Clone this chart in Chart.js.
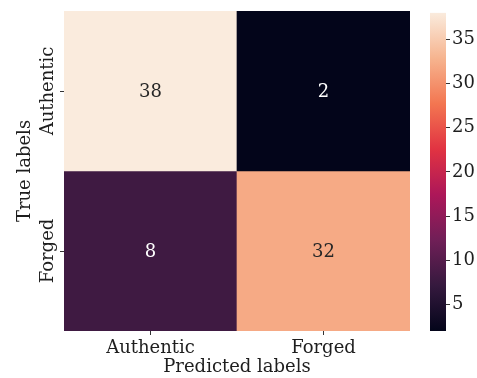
<!DOCTYPE html>
<html>
<head>
<meta charset="utf-8">
<script src="https://cdn.jsdelivr.net/npm/chart.js@4/dist/chart.umd.min.js"></script>
<style>
  html, body { margin: 0; padding: 0; background: #ffffff; }
  #wrap { position: relative; width: 477px; height: 378px; overflow: hidden; }
  #heat { position: absolute; left: 0; top: 0; }
  #scale { position: absolute; left: 420px; top: 0; }
</style>
</head>
<body>
<div id="wrap">
  <canvas id="heat" width="477" height="378"></canvas>
  <canvas id="scale" width="57" height="378"></canvas>
</div>
<script>
// Confusion matrix: rows = true class, columns = predicted class
const predictedLabels = ['Authentic', 'Forged'];
const trueLabels = ['Authentic', 'Forged'];
const authenticRow = [38, 2];
const forgedRow = [8, 32];
const counts = [authenticRow, forgedRow];
const colorbarTicks = [5, 10, 15, 20, 25, 30, 35];
const colorMin = 2;
const colorMax = 38;

const FONT_FAMILY = '"DejaVu Serif", "Liberation Serif", serif';
const FONT_SIZE = 18;
const font = { family: FONT_FAMILY, size: FONT_SIZE };
const inkColor = '#1e1e1e';
const tickMarkColor = '#333333';

// "rocket" colour ramp
const rocketStops = [
  [0, [3, 5, 26]],
  [1 / 7, [53, 25, 62]],
  [2 / 7, [112, 31, 87]],
  [3 / 7, [173, 23, 89]],
  [4 / 7, [225, 51, 66]],
  [5 / 7, [243, 118, 81]],
  [6 / 7, [246, 180, 143]],
  [1, [250, 235, 221]]
];

function rocketRGB(t) {
  t = Math.min(1, Math.max(0, t));
  for (let i = 1; i < rocketStops.length; i++) {
    const [t1, c1] = rocketStops[i];
    const [t0, c0] = rocketStops[i - 1];
    if (t <= t1) {
      const f = (t - t0) / (t1 - t0);
      return c0.map((a, k) => Math.round(a + (c1[k] - a) * f));
    }
  }
  return rocketStops[rocketStops.length - 1][1];
}
const toCss = c => `rgb(${c[0]},${c[1]},${c[2]})`;
const colourFor = v => toCss(rocketRGB((v - colorMin) / (colorMax - colorMin)));
function textColourFor(v) {
  const c = rocketRGB((v - colorMin) / (colorMax - colorMin));
  const lum = (0.299 * c[0] + 0.587 * c[1] + 0.114 * c[2]) / 255;
  return lum < 0.45 ? '#ffffff' : '#262626';
}

// Width of the longest row label, used to centre the rotated labels
const measureCtx = document.createElement('canvas').getContext('2d');
measureCtx.font = `${FONT_SIZE}px ${FONT_FAMILY}`;
const widestRowLabel = Math.max(...trueLabels.map(t => measureCtx.measureText(t).width));
const ROW_LABEL_CENTER = 48;   // x of the rotated row labels
const AXIS_WIDTH = 64;
const TICK_LEN = 4;

// Writes the count in the middle of every cell
const cellText = {
  id: 'cellText',
  afterDatasetsDraw(chart) {
    const ctx = chart.ctx;
    ctx.save();
    ctx.font = `${FONT_SIZE}px ${FONT_FAMILY}`;
    ctx.textAlign = 'center';
    ctx.textBaseline = 'middle';
    chart.data.datasets.forEach((ds, r) => {
      chart.getDatasetMeta(r).data.forEach((bar, c) => {
        const p = bar.getProps(['x', 'y', 'base'], true);
        const v = counts[r][c];
        ctx.fillStyle = textColourFor(v);
        ctx.fillText(String(v), p.x, (p.y + p.base) / 2 + 1);
      });
    });
    ctx.restore();
  }
};

new Chart(document.getElementById('heat'), {
  type: 'bar',
  data: {
    labels: predictedLabels,
    datasets: counts.map((row, r) => ({
      label: trueLabels[r],
      data: row.map(() => [r, r + 1]),
      backgroundColor: row.map(colourFor),
      borderWidth: 0,
      barPercentage: 1,
      categoryPercentage: 1,
      grouped: false
    }))
  },
  options: {
    responsive: false,
    animation: false,
    devicePixelRatio: 1,
    layout: { padding: { left: 0, top: 11, right: 67, bottom: 0 } },
    plugins: { legend: { display: false }, tooltip: { enabled: false } },
    scales: {
      x: {
        type: 'category',
        offset: true,
        grid: { offset: false, drawOnChartArea: false, tickLength: TICK_LEN, color: tickMarkColor },
        border: { display: false },
        ticks: { font, color: inkColor, padding: 3 },
        title: { display: true, text: 'Predicted labels', font, color: inkColor, padding: { top: -2, bottom: 0 } },
        afterFit: s => { s.height = 47; }
      },
      y: {
        type: 'linear',
        min: 0,
        max: trueLabels.length,
        reverse: true,
        afterBuildTicks: s => { s.ticks = trueLabels.map((_, i) => ({ value: i + 0.5 })); },
        grid: { drawOnChartArea: false, tickLength: TICK_LEN, color: tickMarkColor },
        border: { display: false },
        ticks: {
          font,
          color: inkColor,
          minRotation: 90,
          maxRotation: 90,
          crossAlign: 'center',
          padding: AXIS_WIDTH - TICK_LEN - ROW_LABEL_CENTER - widestRowLabel / 2,
          callback: v => trueLabels[Math.floor(v)]
        },
        title: { display: true, text: 'True labels', font, color: inkColor, padding: { top: 15, bottom: 0 } },
        afterFit: s => { s.width = AXIS_WIDTH; }
      }
    }
  },
  plugins: [cellText]
});

// Colour bar drawn as a single floating bar filled with the ramp
new Chart(document.getElementById('scale'), {
  type: 'bar',
  data: {
    labels: [''],
    datasets: [{
      data: [[colorMin, colorMax]],
      borderWidth: 0,
      barPercentage: 1,
      categoryPercentage: 1,
      backgroundColor: c => {
        const chart = c.chart;
        const area = chart.chartArea;
        if (!area) return toCss(rocketStops[0][1]);
        const ys = chart.scales.y;
        const g = chart.ctx.createLinearGradient(0, ys.getPixelForValue(colorMin), 0, ys.getPixelForValue(colorMax));
        rocketStops.forEach(([t, col]) => g.addColorStop(t, toCss(col)));
        return g;
      }
    }]
  },
  options: {
    responsive: false,
    animation: false,
    devicePixelRatio: 1,
    layout: { padding: { left: 10, top: 11, right: 0, bottom: 47 } },
    plugins: { legend: { display: false }, tooltip: { enabled: false } },
    scales: {
      x: { display: false },
      y: {
        position: 'right',
        min: colorMin,
        max: colorMax,
        afterBuildTicks: s => { s.ticks = colorbarTicks.map(v => ({ value: v })); },
        grid: { drawOnChartArea: false, tickLength: TICK_LEN, color: tickMarkColor },
        border: { display: false },
        ticks: { font, color: inkColor, padding: 2 },
        afterFit: s => { s.width = 31; }
      }
    }
  }
});
</script>
</body>
</html>
